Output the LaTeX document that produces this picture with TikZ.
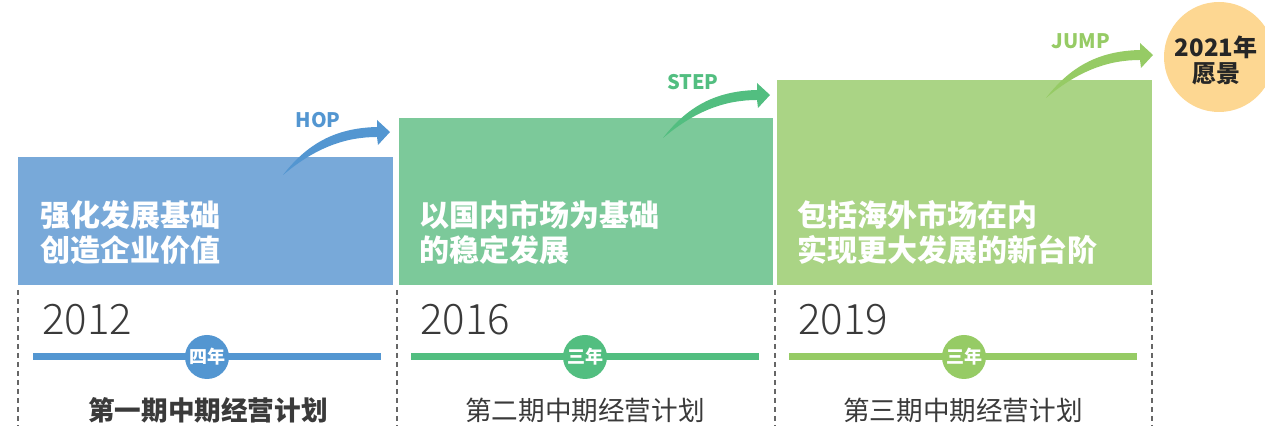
\documentclass[tikz,border=0pt]{standalone}
\usepackage{fontspec}
\setmainfont{Noto Sans CJK SC}
\newfontfamily\cjk{Noto Sans CJK SC}
\newfontfamily\thinfont{Noto Sans CJK SC Light}
\definecolor{bluebox}{HTML}{78A9D9}
\definecolor{blueline}{HTML}{5396D1}
\definecolor{greenbox}{HTML}{7CC99A}
\definecolor{greenline}{HTML}{52BE80}
\definecolor{limebox}{HTML}{AAD485}
\definecolor{limeline}{HTML}{96CB65}
\definecolor{sun}{HTML}{FDD792}
\definecolor{txtgray}{HTML}{3A3A3A}
\newcommand\curvearrow[3]{%
  \fill[#3, shift={(#1,#2)}] (0,0) .. controls (27,-35) and (57,-47) .. (94,-48)
    -- (94,-55) -- (107,-43) -- (95,-30) -- (94,-38)
    .. controls (62,-38) and (32,-27) .. (0,0) -- cycle;}
\tikzset{
  boxtext/.style={anchor=west, align=left, text=white, inner sep=0pt,
    font=\cjk\bfseries\fontsize{15pt}{17.5pt}\selectfont},
  yeartext/.style={anchor=base west, inner sep=0pt, text=txtgray,
    font=\thinfont\fontsize{21pt}{21pt}\selectfont},
  plantext/.style={anchor=center, inner sep=0pt, text=txtgray,
    font=\cjk\fontsize{13.3pt}{14pt}\selectfont},
  badge/.style={circle, inner sep=0pt, minimum size=22pt, text=white,
    font=\cjk\bfseries\fontsize{9pt}{9pt}\selectfont},
  steplabel/.style={inner sep=0pt, font=\cjk\bfseries\fontsize{10pt}{10pt}\selectfont},
  sepline/.style={draw=gray!80!black, line width=0.6pt, dash pattern=on 2.5pt off 2pt},
  tline/.style={line width=3.5pt}
}
\begin{document}
\begin{tikzpicture}[x=0.5pt,y=-0.5pt]
\useasboundingbox (0,0) rectangle (1265,426);
% boxes
\fill[bluebox] (18,157) rectangle (393,285);
\fill[greenbox] (399,118) rectangle (773,285);
\fill[limebox] (777,80) rectangle (1152,285);
\node[boxtext] (t1) at (40,233) {强化发展基础\\创造企业价值};
\node[boxtext] (t2) at (419,233) {以国内市场为基础\\的稳定发展};
\node[boxtext] (t3) at (797,233) {包括海外市场在内\\实现更大发展的新台阶};
% arrows
\curvearrow{283}{175}{blueline}
\curvearrow{663}{138}{greenline}
\curvearrow{1046}{98}{limeline}
\node[steplabel, text=blueline] (hop) at (318,120) {HOP};
\node[steplabel, text=greenline] (stp) at (693,82) {STEP};
\node[steplabel, text=limeline] (jmp) at (1081,41) {JUMP};
% vision circle
\node[circle, fill=sun, minimum size=110pt*0.5, inner sep=0pt] (vis) at (1219,57) {};
\node[inner sep=0pt, font=\cjk\bfseries\fontsize{12pt}{13pt}\selectfont, align=center, text=black!85] (vist) at (1216,60) {2021年\\愿景};
% separators
\draw[sepline] (18,290) -- (18,426);
\draw[sepline] (397,290) -- (397,426);
\draw[sepline] (775,290) -- (775,426);
\draw[sepline] (1152,290) -- (1152,426);
% years
\node[yeartext] (y1) at (42,335) {2012};
\node[yeartext] (y2) at (420,335) {2016};
\node[yeartext] (y3) at (798,335) {2019};
% timelines
\draw[tline, blueline] (33,357) -- (381,357);
\draw[tline, greenline] (411,357) -- (759,357);
\draw[tline, limeline] (789,357) -- (1137,357);
\node[badge, fill=blueline] (b1) at (207,357) {四年};
\node[badge, fill=greenline] (b2) at (585,357) {三年};
\node[badge, fill=limeline] (b3) at (964,357) {三年};
% plans
\node[plantext, font=\cjk\bfseries\fontsize{13.3pt}{14pt}\selectfont] (p1) at (208,410) {第一期中期经营计划};
\node[plantext] (p2) at (585,410) {第二期中期经营计划};
\node[plantext] (p3) at (963,410) {第三期中期经营计划};
\end{tikzpicture}
\end{document}
